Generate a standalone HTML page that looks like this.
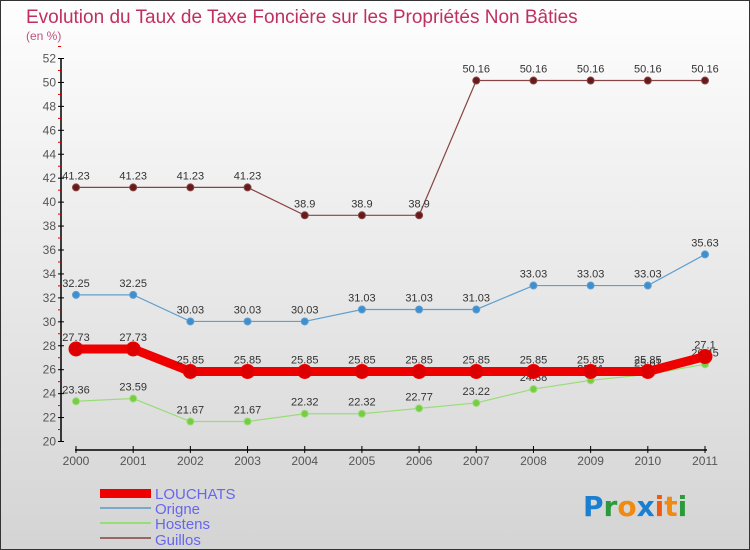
<!DOCTYPE html>
<html><head><meta charset="utf-8"><style>
body{margin:0}
#c{width:750px;height:550px;position:relative;box-sizing:border-box;border:1px solid #333;background:linear-gradient(#fefefe,#d4d4d4);font-family:"Liberation Sans",sans-serif;overflow:hidden}
</style></head><body>
<div id="c">
<svg id="s" width="750" height="550" xmlns="http://www.w3.org/2000/svg" style="position:absolute;left:-1px;top:-1px">
<text x="26" y="23" font-size="19" fill="#c0305f">Evolution du Taux de Taxe Foncière sur les Propriétés Non Bâties</text>
<text x="26" y="40" font-size="12" fill="#c0507f">(en %)</text>
<g id="axes"></g><g id="series"></g>
<g>
<rect x="100" y="489" width="51" height="9" fill="#e00"/>
<text x="155" y="499" font-size="15" fill="#6666ee">LOUCHATS</text>
<rect x="100" y="507" width="51" height="2" fill="#7aa8c8"/>
<text x="155" y="514" font-size="15" fill="#6666ee">Origne</text>
<rect x="100" y="522" width="51" height="2" fill="#99dd77"/>
<text x="155" y="529" font-size="15" fill="#6666ee">Hostens</text>
<rect x="100" y="537" width="51" height="2" fill="#996666"/>
<text x="155" y="545" font-size="15" fill="#6666ee">Guillos</text>
</g>
<g font-size="28" font-family="'DejaVu Sans',sans-serif" font-weight="bold">
<text x="583" y="516"><tspan fill="#1a7fd0">P</tspan><tspan fill="#2a9a3a">r</tspan><tspan fill="#f08a10">o</tspan><tspan fill="#1a7fd0">x</tspan><tspan fill="#f05a10">i</tspan><tspan fill="#f08a10">t</tspan><tspan fill="#2a9a3a">i</tspan></text>
</g>
</svg>
</div>
<script>
const years=["2000","2001","2002","2003","2004","2005","2006","2007","2008","2009","2010","2011"];
const louchats=[27.73,27.73,25.85,25.85,25.85,25.85,25.85,25.85,25.85,25.85,25.85,27.1];
const origne=[32.25,32.25,30.03,30.03,30.03,31.03,31.03,31.03,33.03,33.03,33.03,35.63];
const hostens=[23.36,23.59,21.67,21.67,22.32,22.32,22.77,23.22,24.38,25.11,25.61,26.45];
const guillos=[41.23,41.23,41.23,41.23,38.9,38.9,38.9,50.16,50.16,50.16,50.16,50.16];
const yTicks=[20,22,24,26,28,30,32,34,36,38,40,42,44,46,48,50,52];
const NS="http://www.w3.org/2000/svg";
const X=i=>76+i*(629/11);
const Y=v=>441.5-(v-20)*(383/32);
function mk(t,a,p){const e=document.createElementNS(NS,t);for(const k in a)e.setAttribute(k,a[k]);p.appendChild(e);return e;}
const ax=document.getElementById('axes');
let l=mk('line',{x1:61,y1:Y(52),x2:61,y2:Y(20),stroke:'#000','stroke-width':1.5},ax);


yTicks.forEach(v=>{
 mk('line',{x1:58,x2:64,y1:Y(v),y2:Y(v),stroke:'#000'},ax);
 mk('line',{x1:58,x2:61,y1:Y(v+1),y2:Y(v+1),stroke:'#d00'},ax);
 const t=mk('text',{x:56,y:Y(v)+4,'font-size':12,'text-anchor':'end',fill:'#555'},ax);t.textContent=v;
 
 
});
l=mk('line',{x1:75,y1:450,x2:707,y2:450,stroke:'#000','stroke-width':1.5},ax);


years.forEach((y,i)=>{
 mk('line',{x1:X(i),x2:X(i),y1:446,y2:453,stroke:'#000'},ax);
 const t=mk('text',{x:X(i),y:465,'font-size':12,'text-anchor':'middle',fill:'#555'},ax);t.textContent=y;
 
 
});
const sg=document.getElementById('series');
function draw(name,vals,color,dot,w,r){
 const g=mk('g',{},sg);
 
 
 mk('polyline',{points:vals.map((v,i)=>X(i)+','+Y(v)).join(' '),fill:'none',stroke:color,'stroke-width':w},g);
 vals.forEach((v,i)=>{
  const c=mk('circle',{cx:X(i),cy:Y(v),r:r,fill:dot,stroke:color,'stroke-width':1},g);
  
  
  const t=mk('text',{x:X(i),y:Y(v)-8,'font-size':11,'text-anchor':'middle',fill:'#333'},g);
  t.textContent=String(v);
  
  
 });
}
draw('guillos',guillos,'#884444','#661a1a',1.2,3.5);
draw('origne',origne,'#5f9fcf','#3f8fcf',1.2,3.5);
draw('hostens',hostens,'#99dd77','#77cc44',1.2,3.5);
draw('louchats',louchats,'#ee0000','#dd0000',9,7);
</script>
</body></html>
